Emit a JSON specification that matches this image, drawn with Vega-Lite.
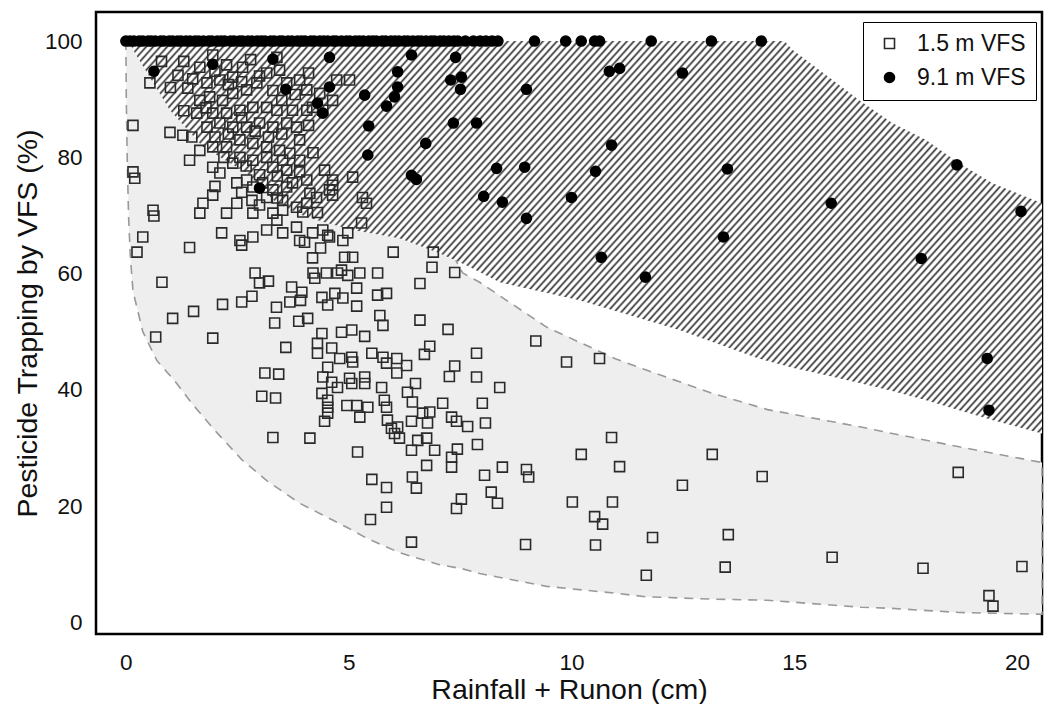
{
"$schema": "https://vega.github.io/schema/vega-lite/v6.json",
"width": 946, "height": 622,
"autosize": {"type": "none"},
"padding": {"left": 96, "top": 12, "right": 2, "bottom": 70},
"background": "white",
"datasets": {
"gray": [
{"x":0,"y":100,"y2":100},{"x":0.01,"y":90,"y2":100},{"x":0.03,"y":80,"y2":100},{"x":0.06,"y":70,"y2":100},{"x":0.1,"y":63,"y2":100},{"x":0.16,"y":57,"y2":100},{"x":0.38,"y":50,"y2":100},{"x":0.7,"y":45,"y2":100},{"x":1.1,"y":41.5,"y2":100},{"x":1.5,"y":37.5,"y2":100},{"x":2.0,"y":33,"y2":100},{"x":2.6,"y":28,"y2":100},{"x":3.16,"y":24.4,"y2":100},{"x":3.9,"y":20.5,"y2":100},{"x":4.64,"y":17.6,"y2":100},{"x":5.0,"y":16.2,"y2":100},{"x":5.4,"y":14.5,"y2":94},{"x":6.14,"y":12.0,"y2":80},{"x":7.0,"y":10.0,"y2":68},{"x":7.56,"y":9.2,"y2":60.1},{"x":7.94,"y":8.4,"y2":58.5},{"x":9.44,"y":6.2,"y2":50.8},{"x":11.0,"y":5.0,"y2":45.3},{"x":11.68,"y":4.4,"y2":43.4},{"x":13.16,"y":4.0,"y2":39.4},{"x":14.4,"y":3.8,"y2":36.6},{"x":16.5,"y":2.6,"y2":33.6},{"x":17.2,"y":2.4,"y2":32.5},{"x":18.7,"y":1.7,"y2":30.2},{"x":20.56,"y":1.4,"y2":27.5}
],
"hatch": [
{"x":0.1,"y":99.5,"y2":100},{"x":0.16,"y":98.5,"y2":100},{"x":0.99,"y":88.1,"y2":100},{"x":1.73,"y":81.8,"y2":100},{"x":2.71,"y":77.3,"y2":100},{"x":3.39,"y":72.1,"y2":100},{"x":4.06,"y":69.7,"y2":100},{"x":5.09,"y":67.5,"y2":100},{"x":6.14,"y":66.1,"y2":100},{"x":7.04,"y":63.5,"y2":100},{"x":7.65,"y":61.4,"y2":100},{"x":8.39,"y":58.5,"y2":100},{"x":10.18,"y":55.4,"y2":100},{"x":12.42,"y":50.3,"y2":100},{"x":14.2,"y":45.4,"y2":100},{"x":14.78,"y":44.2,"y2":100},{"x":14.96,"y":43.8,"y2":98.5},{"x":15.72,"y":42.5,"y2":94.1},{"x":16.46,"y":41.2,"y2":89.8},{"x":17.2,"y":39.8,"y2":85.9},{"x":17.96,"y":38.2,"y2":83.0},{"x":18.7,"y":36.5,"y2":79.0},{"x":19.44,"y":34.8,"y2":75.6},{"x":20.56,"y":32.5,"y2":72.1}
],
"xmajor": [{"x":0},{"x":5},{"x":10},{"x":15},{"x":20}],
"xminor": [{"x":1},{"x":2},{"x":3},{"x":4},{"x":6},{"x":7},{"x":8},{"x":9},{"x":11},{"x":12},{"x":13},{"x":14},{"x":16},{"x":17},{"x":18},{"x":19}],
"ymajor": [{"y":0},{"y":20},{"y":40},{"y":60},{"y":80},{"y":100}],
"yminor": [{"y":5},{"y":10},{"y":15},{"y":25},{"y":30},{"y":35},{"y":45},{"y":50},{"y":55},{"y":65},{"y":70},{"y":75},{"y":85},{"y":90},{"y":95}],
"pts": [
{"x":0.54,"y":92.8,"s":"1.5 m VFS"},{"x":1.17,"y":94.1,"s":"1.5 m VFS"},{"x":1.39,"y":91.9,"s":"1.5 m VFS"},{"x":1.66,"y":95.5,"s":"1.5 m VFS"},{"x":1.95,"y":97.6,"s":"1.5 m VFS"},{"x":2.26,"y":95.9,"s":"1.5 m VFS"},{"x":1.82,"y":92.8,"s":"1.5 m VFS"},{"x":2.11,"y":93.3,"s":"1.5 m VFS"},{"x":2.4,"y":93.8,"s":"1.5 m VFS"},{"x":2.62,"y":95.5,"s":"1.5 m VFS"},
{"x":1.66,"y":89.8,"s":"1.5 m VFS"},{"x":1.88,"y":90.4,"s":"1.5 m VFS"},{"x":2.17,"y":89.8,"s":"1.5 m VFS"},{"x":2.4,"y":91.0,"s":"1.5 m VFS"},{"x":2.71,"y":91.6,"s":"1.5 m VFS"},{"x":2.94,"y":92.8,"s":"1.5 m VFS"},{"x":3.16,"y":94.5,"s":"1.5 m VFS"},{"x":3.45,"y":95.0,"s":"1.5 m VFS"},{"x":3.61,"y":92.8,"s":"1.5 m VFS"},{"x":3.9,"y":93.3,"s":"1.5 m VFS"},
{"x":4.06,"y":91.6,"s":"1.5 m VFS"},{"x":4.35,"y":91.0,"s":"1.5 m VFS"},{"x":4.73,"y":93.3,"s":"1.5 m VFS"},{"x":5.02,"y":93.3,"s":"1.5 m VFS"},{"x":1.59,"y":87.6,"s":"1.5 m VFS"},{"x":1.95,"y":87.6,"s":"1.5 m VFS"},{"x":2.26,"y":87.6,"s":"1.5 m VFS"},{"x":2.56,"y":88.1,"s":"1.5 m VFS"},{"x":2.85,"y":88.6,"s":"1.5 m VFS"},{"x":3.16,"y":88.6,"s":"1.5 m VFS"},
{"x":3.39,"y":88.1,"s":"1.5 m VFS"},{"x":3.74,"y":88.1,"s":"1.5 m VFS"},{"x":4.06,"y":88.1,"s":"1.5 m VFS"},{"x":0.99,"y":84.3,"s":"1.5 m VFS"},{"x":1.28,"y":83.8,"s":"1.5 m VFS"},{"x":1.48,"y":83.5,"s":"1.5 m VFS"},{"x":1.82,"y":85.2,"s":"1.5 m VFS"},{"x":2.11,"y":85.9,"s":"1.5 m VFS"},{"x":2.4,"y":85.2,"s":"1.5 m VFS"},{"x":2.71,"y":85.2,"s":"1.5 m VFS"},
{"x":3.0,"y":85.9,"s":"1.5 m VFS"},{"x":3.3,"y":85.2,"s":"1.5 m VFS"},{"x":3.61,"y":85.9,"s":"1.5 m VFS"},{"x":3.83,"y":85.2,"s":"1.5 m VFS"},{"x":1.66,"y":81.2,"s":"1.5 m VFS"},{"x":1.43,"y":79.5,"s":"1.5 m VFS"},{"x":1.95,"y":81.8,"s":"1.5 m VFS"},{"x":2.26,"y":81.8,"s":"1.5 m VFS"},{"x":2.56,"y":83.0,"s":"1.5 m VFS"},{"x":2.85,"y":82.4,"s":"1.5 m VFS"},
{"x":3.16,"y":81.8,"s":"1.5 m VFS"},{"x":3.45,"y":81.2,"s":"1.5 m VFS"},{"x":3.68,"y":80.7,"s":"1.5 m VFS"},{"x":1.95,"y":78.3,"s":"1.5 m VFS"},{"x":2.11,"y":77.3,"s":"1.5 m VFS"},{"x":2.4,"y":79.0,"s":"1.5 m VFS"},{"x":2.56,"y":80.0,"s":"1.5 m VFS"},{"x":2.85,"y":79.5,"s":"1.5 m VFS"},{"x":3.16,"y":80.0,"s":"1.5 m VFS"},{"x":3.3,"y":78.3,"s":"1.5 m VFS"},
{"x":3.52,"y":79.5,"s":"1.5 m VFS"},{"x":3.61,"y":77.8,"s":"1.5 m VFS"},{"x":2.71,"y":76.1,"s":"1.5 m VFS"},{"x":2.49,"y":75.6,"s":"1.5 m VFS"},{"x":2.85,"y":74.9,"s":"1.5 m VFS"},{"x":3.07,"y":75.6,"s":"1.5 m VFS"},{"x":3.3,"y":74.4,"s":"1.5 m VFS"},{"x":3.61,"y":74.9,"s":"1.5 m VFS"},{"x":3.74,"y":75.6,"s":"1.5 m VFS"},{"x":1.73,"y":72.1,"s":"1.5 m VFS"},
{"x":1.95,"y":73.5,"s":"1.5 m VFS"},{"x":1.66,"y":70.4,"s":"1.5 m VFS"},{"x":2.26,"y":70.4,"s":"1.5 m VFS"},{"x":2.49,"y":72.1,"s":"1.5 m VFS"},{"x":2.83,"y":72.6,"s":"1.5 m VFS"},{"x":2.85,"y":70.4,"s":"1.5 m VFS"},{"x":3.16,"y":73.1,"s":"1.5 m VFS"},{"x":3.3,"y":70.4,"s":"1.5 m VFS"},{"x":3.52,"y":72.6,"s":"1.5 m VFS"},{"x":3.52,"y":70.9,"s":"1.5 m VFS"},
{"x":3.83,"y":71.4,"s":"1.5 m VFS"},{"x":4.06,"y":72.1,"s":"1.5 m VFS"},{"x":4.28,"y":73.1,"s":"1.5 m VFS"},{"x":4.57,"y":74.4,"s":"1.5 m VFS"},{"x":4.64,"y":76.1,"s":"1.5 m VFS"},{"x":5.09,"y":76.6,"s":"1.5 m VFS"},{"x":5.4,"y":72.1,"s":"1.5 m VFS"},{"x":5.31,"y":73.1,"s":"1.5 m VFS"},{"x":2.15,"y":67.0,"s":"1.5 m VFS"},{"x":2.56,"y":65.7,"s":"1.5 m VFS"},
{"x":2.85,"y":66.3,"s":"1.5 m VFS"},{"x":3.16,"y":67.5,"s":"1.5 m VFS"},{"x":3.39,"y":69.2,"s":"1.5 m VFS"},{"x":3.52,"y":67.0,"s":"1.5 m VFS"},{"x":3.83,"y":68.0,"s":"1.5 m VFS"},{"x":3.9,"y":65.7,"s":"1.5 m VFS"},{"x":4.19,"y":67.0,"s":"1.5 m VFS"},{"x":4.42,"y":67.5,"s":"1.5 m VFS"},{"x":4.57,"y":66.3,"s":"1.5 m VFS"},{"x":4.87,"y":65.7,"s":"1.5 m VFS"},
{"x":4.98,"y":67.0,"s":"1.5 m VFS"},{"x":4.19,"y":88.6,"s":"1.5 m VFS"},{"x":4.42,"y":88.1,"s":"1.5 m VFS"},{"x":4.64,"y":89.8,"s":"1.5 m VFS"},{"x":3.39,"y":97.2,"s":"1.5 m VFS"},
{"x":1.3,"y":96.5,"s":"1.5 m VFS"},{"x":1.5,"y":93.5,"s":"1.5 m VFS"},{"x":2.0,"y":94.8,"s":"1.5 m VFS"},{"x":2.3,"y":92.5,"s":"1.5 m VFS"},{"x":2.6,"y":93.0,"s":"1.5 m VFS"},{"x":2.8,"y":96.8,"s":"1.5 m VFS"},{"x":3.0,"y":94.0,"s":"1.5 m VFS"},{"x":3.3,"y":91.5,"s":"1.5 m VFS"},{"x":3.5,"y":89.8,"s":"1.5 m VFS"},{"x":3.8,"y":90.8,"s":"1.5 m VFS"},
{"x":4.1,"y":94.5,"s":"1.5 m VFS"},{"x":1.8,"y":88.5,"s":"1.5 m VFS"},{"x":2.0,"y":83.5,"s":"1.5 m VFS"},{"x":2.3,"y":84.0,"s":"1.5 m VFS"},{"x":2.6,"y":86.8,"s":"1.5 m VFS"},{"x":2.9,"y":84.5,"s":"1.5 m VFS"},{"x":3.2,"y":83.5,"s":"1.5 m VFS"},{"x":3.5,"y":84.0,"s":"1.5 m VFS"},{"x":3.9,"y":83.0,"s":"1.5 m VFS"},{"x":4.1,"y":85.5,"s":"1.5 m VFS"},
{"x":2.2,"y":80.0,"s":"1.5 m VFS"},{"x":2.7,"y":78.5,"s":"1.5 m VFS"},{"x":3.0,"y":77.0,"s":"1.5 m VFS"},{"x":3.4,"y":76.8,"s":"1.5 m VFS"},{"x":3.9,"y":79.5,"s":"1.5 m VFS"},{"x":4.2,"y":80.8,"s":"1.5 m VFS"},{"x":3.9,"y":77.5,"s":"1.5 m VFS"},{"x":2.6,"y":74.0,"s":"1.5 m VFS"},{"x":3.4,"y":73.0,"s":"1.5 m VFS"},{"x":3.0,"y":71.8,"s":"1.5 m VFS"},
{"x":4.3,"y":70.5,"s":"1.5 m VFS"},{"x":2.0,"y":75.0,"s":"1.5 m VFS"},{"x":1.3,"y":88.0,"s":"1.5 m VFS"},{"x":1.0,"y":92.0,"s":"1.5 m VFS"},{"x":0.8,"y":96.5,"s":"1.5 m VFS"},
{"x":0.16,"y":85.5,"s":"1.5 m VFS"},{"x":0.16,"y":77.5,"s":"1.5 m VFS"},{"x":0.2,"y":76.4,"s":"1.5 m VFS"},{"x":0.61,"y":70.9,"s":"1.5 m VFS"},{"x":0.63,"y":69.9,"s":"1.5 m VFS"},{"x":0.38,"y":66.3,"s":"1.5 m VFS"},{"x":0.25,"y":63.7,"s":"1.5 m VFS"},{"x":0.81,"y":58.5,"s":"1.5 m VFS"},{"x":0.67,"y":49.1,"s":"1.5 m VFS"},{"x":1.05,"y":52.3,"s":"1.5 m VFS"},
{"x":1.52,"y":53.5,"s":"1.5 m VFS"},{"x":1.43,"y":64.5,"s":"1.5 m VFS"},{"x":1.95,"y":48.9,"s":"1.5 m VFS"},{"x":2.17,"y":54.7,"s":"1.5 m VFS"},{"x":2.6,"y":55.1,"s":"1.5 m VFS"},{"x":2.83,"y":56.1,"s":"1.5 m VFS"},{"x":2.6,"y":64.9,"s":"1.5 m VFS"},{"x":2.9,"y":60.1,"s":"1.5 m VFS"},{"x":3.0,"y":58.4,"s":"1.5 m VFS"},{"x":3.2,"y":58.7,"s":"1.5 m VFS"},
{"x":3.38,"y":54.2,"s":"1.5 m VFS"},{"x":3.34,"y":51.5,"s":"1.5 m VFS"},{"x":3.59,"y":47.3,"s":"1.5 m VFS"},{"x":3.12,"y":42.9,"s":"1.5 m VFS"},{"x":3.43,"y":42.7,"s":"1.5 m VFS"},{"x":3.05,"y":38.9,"s":"1.5 m VFS"},{"x":3.36,"y":38.6,"s":"1.5 m VFS"},{"x":3.3,"y":31.8,"s":"1.5 m VFS"},{"x":4.13,"y":31.7,"s":"1.5 m VFS"},{"x":3.72,"y":57.7,"s":"1.5 m VFS"},
{"x":3.95,"y":56.8,"s":"1.5 m VFS"},{"x":3.68,"y":55.1,"s":"1.5 m VFS"},{"x":3.92,"y":55.4,"s":"1.5 m VFS"},{"x":3.88,"y":51.8,"s":"1.5 m VFS"},{"x":4.08,"y":52.3,"s":"1.5 m VFS"},{"x":4.2,"y":60.1,"s":"1.5 m VFS"},{"x":4.24,"y":59.2,"s":"1.5 m VFS"},{"x":4.37,"y":64.4,"s":"1.5 m VFS"},{"x":4.5,"y":60.1,"s":"1.5 m VFS"},{"x":4.75,"y":60.1,"s":"1.5 m VFS"},
{"x":4.98,"y":59.7,"s":"1.5 m VFS"},{"x":5.25,"y":60.1,"s":"1.5 m VFS"},{"x":5.65,"y":60.1,"s":"1.5 m VFS"},{"x":5.18,"y":57.5,"s":"1.5 m VFS"},{"x":4.69,"y":56.6,"s":"1.5 m VFS"},{"x":4.87,"y":55.8,"s":"1.5 m VFS"},{"x":4.53,"y":54.6,"s":"1.5 m VFS"},{"x":4.4,"y":55.9,"s":"1.5 m VFS"},{"x":5.18,"y":54.4,"s":"1.5 m VFS"},{"x":5.65,"y":56.3,"s":"1.5 m VFS"},
{"x":5.85,"y":56.6,"s":"1.5 m VFS"},{"x":5.7,"y":52.8,"s":"1.5 m VFS"},{"x":5.77,"y":51.1,"s":"1.5 m VFS"},{"x":4.4,"y":49.7,"s":"1.5 m VFS"},{"x":4.84,"y":49.9,"s":"1.5 m VFS"},{"x":5.07,"y":50.3,"s":"1.5 m VFS"},{"x":5.36,"y":49.2,"s":"1.5 m VFS"},{"x":4.3,"y":48.0,"s":"1.5 m VFS"},{"x":4.3,"y":46.3,"s":"1.5 m VFS"},{"x":4.62,"y":47.2,"s":"1.5 m VFS"},
{"x":4.8,"y":45.4,"s":"1.5 m VFS"},{"x":5.07,"y":45.6,"s":"1.5 m VFS"},{"x":5.09,"y":44.8,"s":"1.5 m VFS"},{"x":5.52,"y":46.3,"s":"1.5 m VFS"},{"x":5.77,"y":45.6,"s":"1.5 m VFS"},{"x":5.85,"y":44.6,"s":"1.5 m VFS"},{"x":6.08,"y":45.4,"s":"1.5 m VFS"},{"x":4.53,"y":43.9,"s":"1.5 m VFS"},{"x":4.42,"y":42.2,"s":"1.5 m VFS"},{"x":4.62,"y":41.3,"s":"1.5 m VFS"},
{"x":4.75,"y":40.4,"s":"1.5 m VFS"},{"x":5.02,"y":42.0,"s":"1.5 m VFS"},{"x":5.07,"y":41.1,"s":"1.5 m VFS"},{"x":5.36,"y":42.2,"s":"1.5 m VFS"},{"x":5.36,"y":41.1,"s":"1.5 m VFS"},{"x":5.74,"y":40.4,"s":"1.5 m VFS"},{"x":6.08,"y":42.9,"s":"1.5 m VFS"},{"x":4.4,"y":39.4,"s":"1.5 m VFS"},{"x":4.53,"y":38.2,"s":"1.5 m VFS"},{"x":4.53,"y":37.0,"s":"1.5 m VFS"},
{"x":4.53,"y":36.0,"s":"1.5 m VFS"},{"x":4.46,"y":34.6,"s":"1.5 m VFS"},{"x":4.96,"y":37.3,"s":"1.5 m VFS"},{"x":5.18,"y":37.3,"s":"1.5 m VFS"},{"x":5.25,"y":35.3,"s":"1.5 m VFS"},{"x":5.43,"y":37.0,"s":"1.5 m VFS"},{"x":5.8,"y":38.2,"s":"1.5 m VFS"},{"x":5.85,"y":37.0,"s":"1.5 m VFS"},{"x":5.87,"y":34.8,"s":"1.5 m VFS"},{"x":5.96,"y":33.4,"s":"1.5 m VFS"},
{"x":6.03,"y":32.5,"s":"1.5 m VFS"},{"x":5.2,"y":29.3,"s":"1.5 m VFS"},{"x":5.52,"y":24.6,"s":"1.5 m VFS"},
{"x":4.06,"y":76.1,"s":"1.5 m VFS"},{"x":4.13,"y":73.8,"s":"1.5 m VFS"},{"x":3.97,"y":70.6,"s":"1.5 m VFS"},{"x":4.46,"y":77.8,"s":"1.5 m VFS"},{"x":4.64,"y":75.2,"s":"1.5 m VFS"},{"x":4.64,"y":73.5,"s":"1.5 m VFS"},{"x":5.29,"y":68.7,"s":"1.5 m VFS"},{"x":4.53,"y":66.6,"s":"1.5 m VFS"},{"x":4.01,"y":65.4,"s":"1.5 m VFS"},{"x":4.19,"y":62.7,"s":"1.5 m VFS"},
{"x":4.91,"y":62.8,"s":"1.5 m VFS"},{"x":5.09,"y":62.8,"s":"1.5 m VFS"},{"x":4.84,"y":60.6,"s":"1.5 m VFS"},
{"x":6.0,"y":63.7,"s":"1.5 m VFS"},{"x":6.9,"y":63.7,"s":"1.5 m VFS"},{"x":6.87,"y":61.1,"s":"1.5 m VFS"},{"x":7.38,"y":60.2,"s":"1.5 m VFS"},{"x":6.6,"y":58.3,"s":"1.5 m VFS"},{"x":6.6,"y":52.0,"s":"1.5 m VFS"},{"x":7.23,"y":50.4,"s":"1.5 m VFS"},{"x":9.2,"y":48.4,"s":"1.5 m VFS"},{"x":9.89,"y":44.8,"s":"1.5 m VFS"},{"x":10.63,"y":45.4,"s":"1.5 m VFS"},
{"x":6.82,"y":47.5,"s":"1.5 m VFS"},{"x":6.7,"y":46.1,"s":"1.5 m VFS"},{"x":7.87,"y":46.3,"s":"1.5 m VFS"},{"x":6.3,"y":44.2,"s":"1.5 m VFS"},{"x":7.38,"y":44.1,"s":"1.5 m VFS"},{"x":7.26,"y":42.3,"s":"1.5 m VFS"},{"x":7.87,"y":42.2,"s":"1.5 m VFS"},{"x":8.39,"y":40.4,"s":"1.5 m VFS"},{"x":6.5,"y":41.1,"s":"1.5 m VFS"},{"x":6.32,"y":39.6,"s":"1.5 m VFS"},
{"x":6.43,"y":37.9,"s":"1.5 m VFS"},{"x":7.11,"y":37.7,"s":"1.5 m VFS"},{"x":8.0,"y":37.7,"s":"1.5 m VFS"},{"x":6.66,"y":36.0,"s":"1.5 m VFS"},{"x":6.82,"y":36.2,"s":"1.5 m VFS"},{"x":7.31,"y":35.3,"s":"1.5 m VFS"},{"x":7.42,"y":34.6,"s":"1.5 m VFS"},{"x":6.1,"y":33.6,"s":"1.5 m VFS"},{"x":6.41,"y":34.6,"s":"1.5 m VFS"},{"x":6.77,"y":34.3,"s":"1.5 m VFS"},
{"x":7.67,"y":33.7,"s":"1.5 m VFS"},{"x":8.07,"y":34.3,"s":"1.5 m VFS"},{"x":6.14,"y":31.7,"s":"1.5 m VFS"},{"x":6.55,"y":31.3,"s":"1.5 m VFS"},{"x":6.75,"y":31.7,"s":"1.5 m VFS"},{"x":6.41,"y":29.6,"s":"1.5 m VFS"},{"x":6.93,"y":29.6,"s":"1.5 m VFS"},{"x":7.44,"y":29.8,"s":"1.5 m VFS"},{"x":7.89,"y":30.6,"s":"1.5 m VFS"},{"x":7.31,"y":28.4,"s":"1.5 m VFS"},
{"x":10.9,"y":31.8,"s":"1.5 m VFS"},{"x":10.22,"y":28.9,"s":"1.5 m VFS"},{"x":13.16,"y":28.9,"s":"1.5 m VFS"},{"x":11.08,"y":26.8,"s":"1.5 m VFS"},{"x":6.75,"y":27.0,"s":"1.5 m VFS"},{"x":7.31,"y":26.7,"s":"1.5 m VFS"},{"x":8.45,"y":26.7,"s":"1.5 m VFS"},{"x":8.99,"y":26.3,"s":"1.5 m VFS"},{"x":8.05,"y":25.3,"s":"1.5 m VFS"},{"x":6.43,"y":25.0,"s":"1.5 m VFS"},
{"x":14.28,"y":25.1,"s":"1.5 m VFS"},{"x":9.04,"y":25.0,"s":"1.5 m VFS"},{"x":6.52,"y":23.1,"s":"1.5 m VFS"},{"x":5.85,"y":23.2,"s":"1.5 m VFS"},{"x":8.2,"y":22.4,"s":"1.5 m VFS"},{"x":8.34,"y":20.5,"s":"1.5 m VFS"},{"x":7.53,"y":21.2,"s":"1.5 m VFS"},{"x":7.42,"y":19.6,"s":"1.5 m VFS"},{"x":5.85,"y":19.8,"s":"1.5 m VFS"},{"x":12.49,"y":23.6,"s":"1.5 m VFS"},
{"x":10.02,"y":20.7,"s":"1.5 m VFS"},{"x":10.92,"y":20.7,"s":"1.5 m VFS"},{"x":10.52,"y":18.2,"s":"1.5 m VFS"},{"x":10.7,"y":16.9,"s":"1.5 m VFS"},{"x":6.41,"y":13.8,"s":"1.5 m VFS"},{"x":8.97,"y":13.4,"s":"1.5 m VFS"},{"x":10.54,"y":13.3,"s":"1.5 m VFS"},{"x":11.82,"y":14.6,"s":"1.5 m VFS"},{"x":13.52,"y":15.1,"s":"1.5 m VFS"},{"x":13.45,"y":9.5,"s":"1.5 m VFS"},
{"x":11.68,"y":8.1,"s":"1.5 m VFS"},{"x":5.49,"y":17.7,"s":"1.5 m VFS"},{"x":18.68,"y":25.8,"s":"1.5 m VFS"},{"x":15.85,"y":11.2,"s":"1.5 m VFS"},{"x":17.89,"y":9.3,"s":"1.5 m VFS"},{"x":20.11,"y":9.6,"s":"1.5 m VFS"},{"x":19.37,"y":4.6,"s":"1.5 m VFS"},{"x":19.46,"y":2.8,"s":"1.5 m VFS"},
{"x":0,"y":100,"s":"9.1 m VFS"},{"x":0.09,"y":100,"s":"9.1 m VFS"},{"x":0.18,"y":100,"s":"9.1 m VFS"},{"x":0.3,"y":100,"s":"9.1 m VFS"},{"x":0.38,"y":100,"s":"9.1 m VFS"},{"x":0.5,"y":100,"s":"9.1 m VFS"},{"x":0.57,"y":100,"s":"9.1 m VFS"},{"x":0.66,"y":100,"s":"9.1 m VFS"},{"x":0.78,"y":100,"s":"9.1 m VFS"},{"x":0.85,"y":100,"s":"9.1 m VFS"},
{"x":0.97,"y":100,"s":"9.1 m VFS"},{"x":1.05,"y":100,"s":"9.1 m VFS"},{"x":1.16,"y":100,"s":"9.1 m VFS"},{"x":1.24,"y":100,"s":"9.1 m VFS"},{"x":1.35,"y":100,"s":"9.1 m VFS"},{"x":1.44,"y":100,"s":"9.1 m VFS"},{"x":1.55,"y":100,"s":"9.1 m VFS"},{"x":1.63,"y":100,"s":"9.1 m VFS"},{"x":1.74,"y":100,"s":"9.1 m VFS"},{"x":1.86,"y":100,"s":"9.1 m VFS"},
{"x":1.93,"y":100,"s":"9.1 m VFS"},{"x":2.05,"y":100,"s":"9.1 m VFS"},{"x":2.14,"y":100,"s":"9.1 m VFS"},{"x":2.22,"y":100,"s":"9.1 m VFS"},{"x":2.35,"y":100,"s":"9.1 m VFS"},{"x":2.43,"y":100,"s":"9.1 m VFS"},{"x":2.55,"y":100,"s":"9.1 m VFS"},{"x":2.62,"y":100,"s":"9.1 m VFS"},{"x":2.74,"y":100,"s":"9.1 m VFS"},{"x":2.83,"y":100,"s":"9.1 m VFS"},
{"x":2.95,"y":100,"s":"9.1 m VFS"},{"x":3.04,"y":100,"s":"9.1 m VFS"},{"x":3.12,"y":100,"s":"9.1 m VFS"},{"x":3.25,"y":100,"s":"9.1 m VFS"},{"x":3.33,"y":100,"s":"9.1 m VFS"},{"x":3.45,"y":100,"s":"9.1 m VFS"},{"x":3.52,"y":100,"s":"9.1 m VFS"},{"x":3.64,"y":100,"s":"9.1 m VFS"},{"x":3.73,"y":100,"s":"9.1 m VFS"},{"x":3.85,"y":100,"s":"9.1 m VFS"},
{"x":3.94,"y":100,"s":"9.1 m VFS"},{"x":4.02,"y":100,"s":"9.1 m VFS"},{"x":4.15,"y":100,"s":"9.1 m VFS"},{"x":4.23,"y":100,"s":"9.1 m VFS"},{"x":4.35,"y":100,"s":"9.1 m VFS"},{"x":4.44,"y":100,"s":"9.1 m VFS"},{"x":4.53,"y":100,"s":"9.1 m VFS"},{"x":4.65,"y":100,"s":"9.1 m VFS"},{"x":4.72,"y":100,"s":"9.1 m VFS"},{"x":4.84,"y":100,"s":"9.1 m VFS"},
{"x":4.95,"y":100,"s":"9.1 m VFS"},{"x":5.03,"y":100,"s":"9.1 m VFS"},{"x":5.15,"y":100,"s":"9.1 m VFS"},{"x":5.24,"y":100,"s":"9.1 m VFS"},{"x":5.33,"y":100,"s":"9.1 m VFS"},{"x":5.45,"y":100,"s":"9.1 m VFS"},{"x":5.54,"y":100,"s":"9.1 m VFS"},{"x":5.62,"y":100,"s":"9.1 m VFS"},{"x":5.75,"y":100,"s":"9.1 m VFS"},{"x":5.83,"y":100,"s":"9.1 m VFS"},
{"x":5.95,"y":100,"s":"9.1 m VFS"},{"x":6.04,"y":100,"s":"9.1 m VFS"},{"x":6.13,"y":100,"s":"9.1 m VFS"},{"x":6.25,"y":100,"s":"9.1 m VFS"},{"x":6.33,"y":100,"s":"9.1 m VFS"},{"x":6.44,"y":100,"s":"9.1 m VFS"},{"x":6.55,"y":100,"s":"9.1 m VFS"},{"x":6.63,"y":100,"s":"9.1 m VFS"},{"x":6.74,"y":100,"s":"9.1 m VFS"},{"x":6.85,"y":100,"s":"9.1 m VFS"},
{"x":6.93,"y":100,"s":"9.1 m VFS"},{"x":7.05,"y":100,"s":"9.1 m VFS"},{"x":7.14,"y":100,"s":"9.1 m VFS"},{"x":7.25,"y":100,"s":"9.1 m VFS"},{"x":7.36,"y":100,"s":"9.1 m VFS"},{"x":7.45,"y":100,"s":"9.1 m VFS"},{"x":7.62,"y":100,"s":"9.1 m VFS"},{"x":7.8,"y":100,"s":"9.1 m VFS"},{"x":7.95,"y":100,"s":"9.1 m VFS"},{"x":8.08,"y":100,"s":"9.1 m VFS"},
{"x":8.22,"y":100,"s":"9.1 m VFS"},{"x":8.35,"y":100,"s":"9.1 m VFS"},{"x":9.17,"y":100,"s":"9.1 m VFS"},{"x":9.87,"y":100,"s":"9.1 m VFS"},{"x":10.22,"y":100,"s":"9.1 m VFS"},{"x":10.52,"y":100,"s":"9.1 m VFS"},{"x":10.63,"y":100,"s":"9.1 m VFS"},{"x":11.79,"y":100,"s":"9.1 m VFS"},{"x":13.14,"y":100,"s":"9.1 m VFS"},{"x":14.26,"y":100,"s":"9.1 m VFS"},
{"x":0.63,"y":94.8,"s":"9.1 m VFS"},{"x":1.95,"y":96.0,"s":"9.1 m VFS"},{"x":3.3,"y":96.9,"s":"9.1 m VFS"},{"x":4.57,"y":97.2,"s":"9.1 m VFS"},{"x":4.57,"y":92.1,"s":"9.1 m VFS"},{"x":3.59,"y":91.7,"s":"9.1 m VFS"},{"x":4.3,"y":89.3,"s":"9.1 m VFS"},{"x":4.42,"y":87.6,"s":"9.1 m VFS"},{"x":5.36,"y":90.7,"s":"9.1 m VFS"},{"x":5.85,"y":88.8,"s":"9.1 m VFS"},
{"x":6.1,"y":94.7,"s":"9.1 m VFS"},{"x":6.1,"y":92.1,"s":"9.1 m VFS"},{"x":6.03,"y":90.4,"s":"9.1 m VFS"},{"x":5.45,"y":85.4,"s":"9.1 m VFS"},{"x":5.43,"y":80.4,"s":"9.1 m VFS"},{"x":3.0,"y":74.7,"s":"9.1 m VFS"},{"x":6.41,"y":97.6,"s":"9.1 m VFS"},{"x":7.4,"y":97.2,"s":"9.1 m VFS"},{"x":7.29,"y":93.3,"s":"9.1 m VFS"},{"x":7.53,"y":93.8,"s":"9.1 m VFS"},
{"x":7.51,"y":91.7,"s":"9.1 m VFS"},{"x":8.99,"y":91.7,"s":"9.1 m VFS"},{"x":10.85,"y":94.8,"s":"9.1 m VFS"},{"x":11.08,"y":95.3,"s":"9.1 m VFS"},{"x":12.49,"y":94.5,"s":"9.1 m VFS"},{"x":6.73,"y":82.4,"s":"9.1 m VFS"},{"x":7.35,"y":85.9,"s":"9.1 m VFS"},{"x":7.87,"y":85.9,"s":"9.1 m VFS"},{"x":10.9,"y":82.1,"s":"9.1 m VFS"},{"x":8.32,"y":78.1,"s":"9.1 m VFS"},
{"x":8.95,"y":78.3,"s":"9.1 m VFS"},{"x":10.54,"y":77.6,"s":"9.1 m VFS"},{"x":13.5,"y":78.0,"s":"9.1 m VFS"},{"x":6.41,"y":76.9,"s":"9.1 m VFS"},{"x":6.52,"y":76.2,"s":"9.1 m VFS"},{"x":8.03,"y":73.3,"s":"9.1 m VFS"},{"x":8.45,"y":72.3,"s":"9.1 m VFS"},{"x":10.0,"y":73.1,"s":"9.1 m VFS"},{"x":8.99,"y":69.5,"s":"9.1 m VFS"},{"x":13.41,"y":66.3,"s":"9.1 m VFS"},
{"x":10.67,"y":62.8,"s":"9.1 m VFS"},{"x":11.66,"y":59.4,"s":"9.1 m VFS"},{"x":18.65,"y":78.7,"s":"9.1 m VFS"},{"x":15.83,"y":72.1,"s":"9.1 m VFS"},{"x":20.09,"y":70.7,"s":"9.1 m VFS"},{"x":17.85,"y":62.6,"s":"9.1 m VFS"},{"x":19.33,"y":45.4,"s":"9.1 m VFS"},{"x":19.37,"y":36.5,"s":"9.1 m VFS"}
]
},
"encoding": {
"x": {"field": "x", "type": "quantitative",
 "scale": {"domain": [-0.67, 20.56], "nice": false, "zero": false},
 "axis": {"title": "Rainfall + Runon (cm)", "values": [0,5,10,15,20],
  "domain": false, "ticks": false, "tickSize": 0,
  "labelPadding": 17, "titlePadding": 2, "labelFlush": false, "labelOverlap": false, "zindex": 2}},
"y": {"field": "y", "type": "quantitative",
 "scale": {"domain": [-2, 105], "nice": false, "zero": false},
 "axis": {"title": "Pesticide Trapping by VFS (%)", "values": [0,20,40,60,80,100],
  "domain": false, "ticks": false, "tickSize": 0,
  "labelPadding": 14, "titlePadding": 2, "labelFlush": false, "labelOverlap": false, "zindex": 2}}
},
"layer": [
{"data": {"name": "gray"}, "mark": {"type": "area", "fill": "#eeeeee", "stroke": "#999999", "strokeWidth": 1.6, "strokeDash": [9, 7]},
 "encoding": {"y2": {"field": "y2"}}},
{"data": {"name": "hatch"}, "mark": {"type": "area", "fill": {"gradient": "linear", "x1": 0, "y1": 0, "x2": 1.335, "y2": 0.5167, "stops": [
{"offset":0.00,"color":"#333"},{"offset":0.0016,"color":"#fff"},{"offset":0.0034,"color":"#fff"},{"offset":0.005,"color":"#333"},{"offset":0.0066,"color":"#fff"},{"offset":0.0084,"color":"#fff"},
{"offset":0.01,"color":"#333"},{"offset":0.0116,"color":"#fff"},{"offset":0.0134,"color":"#fff"},{"offset":0.015,"color":"#333"},{"offset":0.0166,"color":"#fff"},{"offset":0.0184,"color":"#fff"},
{"offset":0.02,"color":"#333"},{"offset":0.0216,"color":"#fff"},{"offset":0.0234,"color":"#fff"},{"offset":0.025,"color":"#333"},{"offset":0.0266,"color":"#fff"},{"offset":0.0284,"color":"#fff"},
{"offset":0.03,"color":"#333"},{"offset":0.0316,"color":"#fff"},{"offset":0.0334,"color":"#fff"},{"offset":0.035,"color":"#333"},{"offset":0.0366,"color":"#fff"},{"offset":0.0384,"color":"#fff"},
{"offset":0.04,"color":"#333"},{"offset":0.0416,"color":"#fff"},{"offset":0.0434,"color":"#fff"},{"offset":0.045,"color":"#333"},{"offset":0.0466,"color":"#fff"},{"offset":0.0484,"color":"#fff"},
{"offset":0.05,"color":"#333"},{"offset":0.0516,"color":"#fff"},{"offset":0.0534,"color":"#fff"},{"offset":0.055,"color":"#333"},{"offset":0.0566,"color":"#fff"},{"offset":0.0584,"color":"#fff"},
{"offset":0.06,"color":"#333"},{"offset":0.0616,"color":"#fff"},{"offset":0.0634,"color":"#fff"},{"offset":0.065,"color":"#333"},{"offset":0.0666,"color":"#fff"},{"offset":0.0684,"color":"#fff"},
{"offset":0.07,"color":"#333"},{"offset":0.0716,"color":"#fff"},{"offset":0.0734,"color":"#fff"},{"offset":0.075,"color":"#333"},{"offset":0.0766,"color":"#fff"},{"offset":0.0784,"color":"#fff"},
{"offset":0.08,"color":"#333"},{"offset":0.0816,"color":"#fff"},{"offset":0.0834,"color":"#fff"},{"offset":0.085,"color":"#333"},{"offset":0.0866,"color":"#fff"},{"offset":0.0884,"color":"#fff"},
{"offset":0.09,"color":"#333"},{"offset":0.0916,"color":"#fff"},{"offset":0.0934,"color":"#fff"},{"offset":0.095,"color":"#333"},{"offset":0.0966,"color":"#fff"},{"offset":0.0984,"color":"#fff"},
{"offset":0.10,"color":"#333"},{"offset":0.1016,"color":"#fff"},{"offset":0.1034,"color":"#fff"},{"offset":0.105,"color":"#333"},{"offset":0.1066,"color":"#fff"},{"offset":0.1084,"color":"#fff"},
{"offset":0.11,"color":"#333"},{"offset":0.1116,"color":"#fff"},{"offset":0.1134,"color":"#fff"},{"offset":0.115,"color":"#333"},{"offset":0.1166,"color":"#fff"},{"offset":0.1184,"color":"#fff"},
{"offset":0.12,"color":"#333"},{"offset":0.1216,"color":"#fff"},{"offset":0.1234,"color":"#fff"},{"offset":0.125,"color":"#333"},{"offset":0.1266,"color":"#fff"},{"offset":0.1284,"color":"#fff"},
{"offset":0.13,"color":"#333"},{"offset":0.1316,"color":"#fff"},{"offset":0.1334,"color":"#fff"},{"offset":0.135,"color":"#333"},{"offset":0.1366,"color":"#fff"},{"offset":0.1384,"color":"#fff"},
{"offset":0.14,"color":"#333"},{"offset":0.1416,"color":"#fff"},{"offset":0.1434,"color":"#fff"},{"offset":0.145,"color":"#333"},{"offset":0.1466,"color":"#fff"},{"offset":0.1484,"color":"#fff"},
{"offset":0.15,"color":"#333"},{"offset":0.1516,"color":"#fff"},{"offset":0.1534,"color":"#fff"},{"offset":0.155,"color":"#333"},{"offset":0.1566,"color":"#fff"},{"offset":0.1584,"color":"#fff"},
{"offset":0.16,"color":"#333"},{"offset":0.1616,"color":"#fff"},{"offset":0.1634,"color":"#fff"},{"offset":0.165,"color":"#333"},{"offset":0.1666,"color":"#fff"},{"offset":0.1684,"color":"#fff"},
{"offset":0.17,"color":"#333"},{"offset":0.1716,"color":"#fff"},{"offset":0.1734,"color":"#fff"},{"offset":0.175,"color":"#333"},{"offset":0.1766,"color":"#fff"},{"offset":0.1784,"color":"#fff"},
{"offset":0.18,"color":"#333"},{"offset":0.1816,"color":"#fff"},{"offset":0.1834,"color":"#fff"},{"offset":0.185,"color":"#333"},{"offset":0.1866,"color":"#fff"},{"offset":0.1884,"color":"#fff"},
{"offset":0.19,"color":"#333"},{"offset":0.1916,"color":"#fff"},{"offset":0.1934,"color":"#fff"},{"offset":0.195,"color":"#333"},{"offset":0.1966,"color":"#fff"},{"offset":0.1984,"color":"#fff"},
{"offset":0.20,"color":"#333"},{"offset":0.2016,"color":"#fff"},{"offset":0.2034,"color":"#fff"},{"offset":0.205,"color":"#333"},{"offset":0.2066,"color":"#fff"},{"offset":0.2084,"color":"#fff"},
{"offset":0.21,"color":"#333"},{"offset":0.2116,"color":"#fff"},{"offset":0.2134,"color":"#fff"},{"offset":0.215,"color":"#333"},{"offset":0.2166,"color":"#fff"},{"offset":0.2184,"color":"#fff"},
{"offset":0.22,"color":"#333"},{"offset":0.2216,"color":"#fff"},{"offset":0.2234,"color":"#fff"},{"offset":0.225,"color":"#333"},{"offset":0.2266,"color":"#fff"},{"offset":0.2284,"color":"#fff"},
{"offset":0.23,"color":"#333"},{"offset":0.2316,"color":"#fff"},{"offset":0.2334,"color":"#fff"},{"offset":0.235,"color":"#333"},{"offset":0.2366,"color":"#fff"},{"offset":0.2384,"color":"#fff"},
{"offset":0.24,"color":"#333"},{"offset":0.2416,"color":"#fff"},{"offset":0.2434,"color":"#fff"},{"offset":0.245,"color":"#333"},{"offset":0.2466,"color":"#fff"},{"offset":0.2484,"color":"#fff"},
{"offset":0.25,"color":"#333"},{"offset":0.2516,"color":"#fff"},{"offset":0.2534,"color":"#fff"},{"offset":0.255,"color":"#333"},{"offset":0.2566,"color":"#fff"},{"offset":0.2584,"color":"#fff"},
{"offset":0.26,"color":"#333"},{"offset":0.2616,"color":"#fff"},{"offset":0.2634,"color":"#fff"},{"offset":0.265,"color":"#333"},{"offset":0.2666,"color":"#fff"},{"offset":0.2684,"color":"#fff"},
{"offset":0.27,"color":"#333"},{"offset":0.2716,"color":"#fff"},{"offset":0.2734,"color":"#fff"},{"offset":0.275,"color":"#333"},{"offset":0.2766,"color":"#fff"},{"offset":0.2784,"color":"#fff"},
{"offset":0.28,"color":"#333"},{"offset":0.2816,"color":"#fff"},{"offset":0.2834,"color":"#fff"},{"offset":0.285,"color":"#333"},{"offset":0.2866,"color":"#fff"},{"offset":0.2884,"color":"#fff"},
{"offset":0.29,"color":"#333"},{"offset":0.2916,"color":"#fff"},{"offset":0.2934,"color":"#fff"},{"offset":0.295,"color":"#333"},{"offset":0.2966,"color":"#fff"},{"offset":0.2984,"color":"#fff"},
{"offset":0.30,"color":"#333"},{"offset":0.3016,"color":"#fff"},{"offset":0.3034,"color":"#fff"},{"offset":0.305,"color":"#333"},{"offset":0.3066,"color":"#fff"},{"offset":0.3084,"color":"#fff"},
{"offset":0.31,"color":"#333"},{"offset":0.3116,"color":"#fff"},{"offset":0.3134,"color":"#fff"},{"offset":0.315,"color":"#333"},{"offset":0.3166,"color":"#fff"},{"offset":0.3184,"color":"#fff"},
{"offset":0.32,"color":"#333"},{"offset":0.3216,"color":"#fff"},{"offset":0.3234,"color":"#fff"},{"offset":0.325,"color":"#333"},{"offset":0.3266,"color":"#fff"},{"offset":0.3284,"color":"#fff"},
{"offset":0.33,"color":"#333"},{"offset":0.3316,"color":"#fff"},{"offset":0.3334,"color":"#fff"},{"offset":0.335,"color":"#333"},{"offset":0.3366,"color":"#fff"},{"offset":0.3384,"color":"#fff"},
{"offset":0.34,"color":"#333"},{"offset":0.3416,"color":"#fff"},{"offset":0.3434,"color":"#fff"},{"offset":0.345,"color":"#333"},{"offset":0.3466,"color":"#fff"},{"offset":0.3484,"color":"#fff"},
{"offset":0.35,"color":"#333"},{"offset":0.3516,"color":"#fff"},{"offset":0.3534,"color":"#fff"},{"offset":0.355,"color":"#333"},{"offset":0.3566,"color":"#fff"},{"offset":0.3584,"color":"#fff"},
{"offset":0.36,"color":"#333"},{"offset":0.3616,"color":"#fff"},{"offset":0.3634,"color":"#fff"},{"offset":0.365,"color":"#333"},{"offset":0.3666,"color":"#fff"},{"offset":0.3684,"color":"#fff"},
{"offset":0.37,"color":"#333"},{"offset":0.3716,"color":"#fff"},{"offset":0.3734,"color":"#fff"},{"offset":0.375,"color":"#333"},{"offset":0.3766,"color":"#fff"},{"offset":0.3784,"color":"#fff"},
{"offset":0.38,"color":"#333"},{"offset":0.3816,"color":"#fff"},{"offset":0.3834,"color":"#fff"},{"offset":0.385,"color":"#333"},{"offset":0.3866,"color":"#fff"},{"offset":0.3884,"color":"#fff"},
{"offset":0.39,"color":"#333"},{"offset":0.3916,"color":"#fff"},{"offset":0.3934,"color":"#fff"},{"offset":0.395,"color":"#333"},{"offset":0.3966,"color":"#fff"},{"offset":0.3984,"color":"#fff"},
{"offset":0.40,"color":"#333"},{"offset":0.4016,"color":"#fff"},{"offset":0.4034,"color":"#fff"},{"offset":0.405,"color":"#333"},{"offset":0.4066,"color":"#fff"},{"offset":0.4084,"color":"#fff"},
{"offset":0.41,"color":"#333"},{"offset":0.4116,"color":"#fff"},{"offset":0.4134,"color":"#fff"},{"offset":0.415,"color":"#333"},{"offset":0.4166,"color":"#fff"},{"offset":0.4184,"color":"#fff"},
{"offset":0.42,"color":"#333"},{"offset":0.4216,"color":"#fff"},{"offset":0.4234,"color":"#fff"},{"offset":0.425,"color":"#333"},{"offset":0.4266,"color":"#fff"},{"offset":0.4284,"color":"#fff"},
{"offset":0.43,"color":"#333"},{"offset":0.4316,"color":"#fff"},{"offset":0.4334,"color":"#fff"},{"offset":0.435,"color":"#333"},{"offset":0.4366,"color":"#fff"},{"offset":0.4384,"color":"#fff"},
{"offset":0.44,"color":"#333"},{"offset":0.4416,"color":"#fff"},{"offset":0.4434,"color":"#fff"},{"offset":0.445,"color":"#333"},{"offset":0.4466,"color":"#fff"},{"offset":0.4484,"color":"#fff"},
{"offset":0.45,"color":"#333"},{"offset":0.4516,"color":"#fff"},{"offset":0.4534,"color":"#fff"},{"offset":0.455,"color":"#333"},{"offset":0.4566,"color":"#fff"},{"offset":0.4584,"color":"#fff"},
{"offset":0.46,"color":"#333"},{"offset":0.4616,"color":"#fff"},{"offset":0.4634,"color":"#fff"},{"offset":0.465,"color":"#333"},{"offset":0.4666,"color":"#fff"},{"offset":0.4684,"color":"#fff"},
{"offset":0.47,"color":"#333"},{"offset":0.4716,"color":"#fff"},{"offset":0.4734,"color":"#fff"},{"offset":0.475,"color":"#333"},{"offset":0.4766,"color":"#fff"},{"offset":0.4784,"color":"#fff"},
{"offset":0.48,"color":"#333"},{"offset":0.4816,"color":"#fff"},{"offset":0.4834,"color":"#fff"},{"offset":0.485,"color":"#333"},{"offset":0.4866,"color":"#fff"},{"offset":0.4884,"color":"#fff"},
{"offset":0.49,"color":"#333"},{"offset":0.4916,"color":"#fff"},{"offset":0.4934,"color":"#fff"},{"offset":0.495,"color":"#333"},{"offset":0.4966,"color":"#fff"},{"offset":0.4984,"color":"#fff"},
{"offset":0.50,"color":"#333"},{"offset":0.5016,"color":"#fff"},{"offset":0.5034,"color":"#fff"},{"offset":0.505,"color":"#333"},{"offset":0.5066,"color":"#fff"},{"offset":0.5084,"color":"#fff"},
{"offset":0.51,"color":"#333"},{"offset":0.5116,"color":"#fff"},{"offset":0.5134,"color":"#fff"},{"offset":0.515,"color":"#333"},{"offset":0.5166,"color":"#fff"},{"offset":0.5184,"color":"#fff"},
{"offset":0.52,"color":"#333"},{"offset":0.5216,"color":"#fff"},{"offset":0.5234,"color":"#fff"},{"offset":0.525,"color":"#333"},{"offset":0.5266,"color":"#fff"},{"offset":0.5284,"color":"#fff"},
{"offset":0.53,"color":"#333"},{"offset":0.5316,"color":"#fff"},{"offset":0.5334,"color":"#fff"},{"offset":0.535,"color":"#333"},{"offset":0.5366,"color":"#fff"},{"offset":0.5384,"color":"#fff"},
{"offset":0.54,"color":"#333"},{"offset":0.5416,"color":"#fff"},{"offset":0.5434,"color":"#fff"},{"offset":0.545,"color":"#333"},{"offset":0.5466,"color":"#fff"},{"offset":0.5484,"color":"#fff"},
{"offset":0.55,"color":"#333"},{"offset":0.5516,"color":"#fff"},{"offset":0.5534,"color":"#fff"},{"offset":0.555,"color":"#333"},{"offset":0.5566,"color":"#fff"},{"offset":0.5584,"color":"#fff"},
{"offset":0.56,"color":"#333"},{"offset":0.5616,"color":"#fff"},{"offset":0.5634,"color":"#fff"},{"offset":0.565,"color":"#333"},{"offset":0.5666,"color":"#fff"},{"offset":0.5684,"color":"#fff"},
{"offset":0.57,"color":"#333"},{"offset":0.5716,"color":"#fff"},{"offset":0.5734,"color":"#fff"},{"offset":0.575,"color":"#333"},{"offset":0.5766,"color":"#fff"},{"offset":0.5784,"color":"#fff"},
{"offset":0.58,"color":"#333"},{"offset":0.5816,"color":"#fff"},{"offset":0.5834,"color":"#fff"},{"offset":0.585,"color":"#333"},{"offset":0.5866,"color":"#fff"},{"offset":0.5884,"color":"#fff"},
{"offset":0.59,"color":"#333"},{"offset":0.5916,"color":"#fff"},{"offset":0.5934,"color":"#fff"},{"offset":0.595,"color":"#333"},{"offset":0.5966,"color":"#fff"},{"offset":0.5984,"color":"#fff"},
{"offset":0.60,"color":"#333"},{"offset":0.6016,"color":"#fff"},{"offset":0.6034,"color":"#fff"},{"offset":0.605,"color":"#333"},{"offset":0.6066,"color":"#fff"},{"offset":0.6084,"color":"#fff"},
{"offset":0.61,"color":"#333"},{"offset":0.6116,"color":"#fff"},{"offset":0.6134,"color":"#fff"},{"offset":0.615,"color":"#333"},{"offset":0.6166,"color":"#fff"},{"offset":0.6184,"color":"#fff"},
{"offset":0.62,"color":"#333"},{"offset":0.6216,"color":"#fff"},{"offset":0.6234,"color":"#fff"},{"offset":0.625,"color":"#333"},{"offset":0.6266,"color":"#fff"},{"offset":0.6284,"color":"#fff"},
{"offset":0.63,"color":"#333"},{"offset":0.6316,"color":"#fff"},{"offset":0.6334,"color":"#fff"},{"offset":0.635,"color":"#333"},{"offset":0.6366,"color":"#fff"},{"offset":0.6384,"color":"#fff"},
{"offset":0.64,"color":"#333"},{"offset":0.6416,"color":"#fff"},{"offset":0.6434,"color":"#fff"},{"offset":0.645,"color":"#333"},{"offset":0.6466,"color":"#fff"},{"offset":0.6484,"color":"#fff"},
{"offset":0.65,"color":"#333"},{"offset":0.6516,"color":"#fff"},{"offset":0.6534,"color":"#fff"},{"offset":0.655,"color":"#333"},{"offset":0.6566,"color":"#fff"},{"offset":0.6584,"color":"#fff"},
{"offset":0.66,"color":"#333"},{"offset":0.6616,"color":"#fff"},{"offset":0.6634,"color":"#fff"},{"offset":0.665,"color":"#333"},{"offset":0.6666,"color":"#fff"},{"offset":0.6684,"color":"#fff"},
{"offset":0.67,"color":"#333"},{"offset":0.6716,"color":"#fff"},{"offset":0.6734,"color":"#fff"},{"offset":0.675,"color":"#333"},{"offset":0.6766,"color":"#fff"},{"offset":0.6784,"color":"#fff"},
{"offset":0.68,"color":"#333"},{"offset":0.6816,"color":"#fff"},{"offset":0.6834,"color":"#fff"},{"offset":0.685,"color":"#333"},{"offset":0.6866,"color":"#fff"},{"offset":0.6884,"color":"#fff"},
{"offset":0.69,"color":"#333"},{"offset":0.6916,"color":"#fff"},{"offset":0.6934,"color":"#fff"},{"offset":0.695,"color":"#333"},{"offset":0.6966,"color":"#fff"},{"offset":0.6984,"color":"#fff"},
{"offset":0.70,"color":"#333"},{"offset":0.7016,"color":"#fff"},{"offset":0.7034,"color":"#fff"},{"offset":0.705,"color":"#333"},{"offset":0.7066,"color":"#fff"},{"offset":0.7084,"color":"#fff"},
{"offset":0.71,"color":"#333"},{"offset":0.7116,"color":"#fff"},{"offset":0.7134,"color":"#fff"},{"offset":0.715,"color":"#333"},{"offset":0.7166,"color":"#fff"},{"offset":0.7184,"color":"#fff"},
{"offset":0.72,"color":"#333"},{"offset":0.7216,"color":"#fff"},{"offset":0.7234,"color":"#fff"},{"offset":0.725,"color":"#333"},{"offset":0.7266,"color":"#fff"},{"offset":0.7284,"color":"#fff"},
{"offset":0.73,"color":"#333"},{"offset":0.7316,"color":"#fff"},{"offset":0.7334,"color":"#fff"},{"offset":0.735,"color":"#333"},{"offset":0.7366,"color":"#fff"},{"offset":0.7384,"color":"#fff"},
{"offset":0.74,"color":"#333"},{"offset":0.7416,"color":"#fff"},{"offset":0.7434,"color":"#fff"},{"offset":0.745,"color":"#333"},{"offset":0.7466,"color":"#fff"},{"offset":0.7484,"color":"#fff"},
{"offset":0.75,"color":"#333"},{"offset":0.7516,"color":"#fff"},{"offset":0.7534,"color":"#fff"},{"offset":0.755,"color":"#333"},{"offset":0.7566,"color":"#fff"},{"offset":0.7584,"color":"#fff"},
{"offset":0.76,"color":"#333"},{"offset":0.7616,"color":"#fff"},{"offset":0.7634,"color":"#fff"},{"offset":0.765,"color":"#333"},{"offset":0.7666,"color":"#fff"},{"offset":0.7684,"color":"#fff"},
{"offset":0.77,"color":"#333"},{"offset":0.7716,"color":"#fff"},{"offset":0.7734,"color":"#fff"},{"offset":0.775,"color":"#333"},{"offset":0.7766,"color":"#fff"},{"offset":0.7784,"color":"#fff"},
{"offset":0.78,"color":"#333"},{"offset":0.7816,"color":"#fff"},{"offset":0.7834,"color":"#fff"},{"offset":0.785,"color":"#333"},{"offset":0.7866,"color":"#fff"},{"offset":0.7884,"color":"#fff"},
{"offset":0.79,"color":"#333"},{"offset":0.7916,"color":"#fff"},{"offset":0.7934,"color":"#fff"},{"offset":0.795,"color":"#333"},{"offset":0.7966,"color":"#fff"},{"offset":0.7984,"color":"#fff"},
{"offset":0.80,"color":"#333"},{"offset":0.8016,"color":"#fff"},{"offset":0.8034,"color":"#fff"},{"offset":0.805,"color":"#333"},{"offset":0.8066,"color":"#fff"},{"offset":0.8084,"color":"#fff"},
{"offset":0.81,"color":"#333"},{"offset":0.8116,"color":"#fff"},{"offset":0.8134,"color":"#fff"},{"offset":0.815,"color":"#333"},{"offset":0.8166,"color":"#fff"},{"offset":0.8184,"color":"#fff"},
{"offset":0.82,"color":"#333"},{"offset":0.8216,"color":"#fff"},{"offset":0.8234,"color":"#fff"},{"offset":0.825,"color":"#333"},{"offset":0.8266,"color":"#fff"},{"offset":0.8284,"color":"#fff"},
{"offset":0.83,"color":"#333"},{"offset":0.8316,"color":"#fff"},{"offset":0.8334,"color":"#fff"},{"offset":0.835,"color":"#333"},{"offset":0.8366,"color":"#fff"},{"offset":0.8384,"color":"#fff"},
{"offset":0.84,"color":"#333"},{"offset":0.8416,"color":"#fff"},{"offset":0.8434,"color":"#fff"},{"offset":0.845,"color":"#333"},{"offset":0.8466,"color":"#fff"},{"offset":0.8484,"color":"#fff"},
{"offset":0.85,"color":"#333"},{"offset":0.8516,"color":"#fff"},{"offset":0.8534,"color":"#fff"},{"offset":0.855,"color":"#333"},{"offset":0.8566,"color":"#fff"},{"offset":0.8584,"color":"#fff"},
{"offset":0.86,"color":"#333"},{"offset":0.8616,"color":"#fff"},{"offset":0.8634,"color":"#fff"},{"offset":0.865,"color":"#333"},{"offset":0.8666,"color":"#fff"},{"offset":0.8684,"color":"#fff"},
{"offset":0.87,"color":"#333"},{"offset":0.8716,"color":"#fff"},{"offset":0.8734,"color":"#fff"},{"offset":0.875,"color":"#333"},{"offset":0.8766,"color":"#fff"},{"offset":0.8784,"color":"#fff"},
{"offset":0.88,"color":"#333"},{"offset":0.8816,"color":"#fff"},{"offset":0.8834,"color":"#fff"},{"offset":0.885,"color":"#333"},{"offset":0.8866,"color":"#fff"},{"offset":0.8884,"color":"#fff"},
{"offset":0.89,"color":"#333"},{"offset":0.8916,"color":"#fff"},{"offset":0.8934,"color":"#fff"},{"offset":0.895,"color":"#333"},{"offset":0.8966,"color":"#fff"},{"offset":0.8984,"color":"#fff"},
{"offset":0.90,"color":"#333"},{"offset":0.9016,"color":"#fff"},{"offset":1,"color":"#fff"}
]}},
 "encoding": {"y2": {"field": "y2"}}},
{"data": {"name": "pts"}, "mark": {"type": "point", "filled": true, "size": 100, "strokeWidth": 1.6, "opacity": 1},
 "encoding": {
  "shape": {"field": "s", "type": "nominal", "title": null, "scale": {"domain": ["1.5 m VFS", "9.1 m VFS"], "range": ["square", "circle"]}},
  "fill": {"field": "s", "type": "nominal", "title": null, "scale": {"domain": ["1.5 m VFS", "9.1 m VFS"], "range": ["transparent", "#000000"]}},
  "stroke": {"field": "s", "type": "nominal", "title": null, "scale": {"domain": ["1.5 m VFS", "9.1 m VFS"], "range": ["#2a2a2a", "#000000"]}}
 }},
{"data": {"name": "xmajor"}, "mark": {"type": "tick", "orient": "vertical", "color": "#000000", "size": 15, "thickness": 2.6, "opacity": 1},
 "encoding": {"y": {"datum": -0.71, "type": "quantitative"}}},
{"data": {"name": "xminor"}, "mark": {"type": "tick", "orient": "vertical", "color": "#000000", "size": 7, "thickness": 2.2, "opacity": 1},
 "encoding": {"y": {"datum": -1.4, "type": "quantitative"}}},
{"data": {"name": "ymajor"}, "mark": {"type": "tick", "orient": "horizontal", "color": "#000000", "size": 13, "thickness": 2.6, "opacity": 1},
 "encoding": {"x": {"datum": -0.524, "type": "quantitative"}}},
{"data": {"name": "yminor"}, "mark": {"type": "tick", "orient": "horizontal", "color": "#000000", "size": 7, "thickness": 2.2, "opacity": 1},
 "encoding": {"x": {"datum": -0.592, "type": "quantitative"}}}
],
"config": {
 "font": "Liberation Sans",
 "view": {"stroke": "#000000", "strokeWidth": 2.5},
 "axis": {"grid": false,
  "labelFont": "Liberation Sans", "labelFontSize": 22.5, "labelColor": "#111111",
  "titleFont": "Liberation Sans", "titleFontSize": 28.5, "titleFontWeight": "normal", "titleColor": "#111111"},
 "legend": {"orient": "none", "legendX": 767, "legendY": 10, "padding": 10, "strokeColor": "#000000", "fillColor": "#ffffff",
  "labelFont": "Liberation Sans", "labelFontSize": 23, "labelColor": "#111111", "symbolSize": 100, "symbolStrokeWidth": 1.6,
  "rowPadding": 10, "labelOffset": 16, "symbolOffset": 5}
}
}
